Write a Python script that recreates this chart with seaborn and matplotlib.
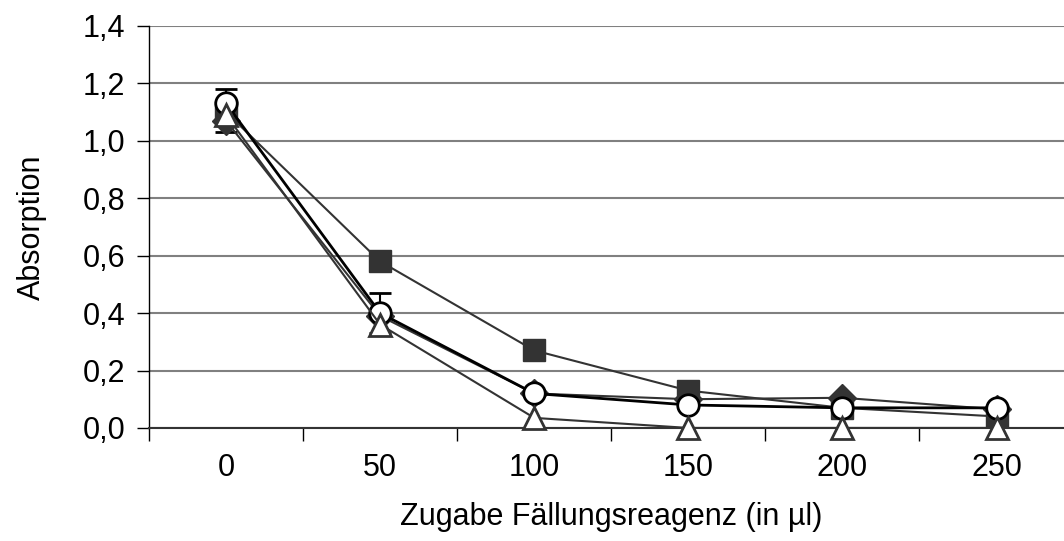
import matplotlib
matplotlib.use("Agg")
import matplotlib.pyplot as plt
import seaborn as sns
import pandas as pd
import numpy as np

# Zugabe Fällungsreagenz (µl)
doses = [0, 50, 100, 150, 200, 250]

# Absorption per series
raute = [1.07, 0.39, 0.12, 0.10, 0.105, 0.065]
quadrat = [1.10, 0.58, 0.27, 0.13, 0.07, 0.04]
kreis = [1.13, 0.40, 0.12, 0.08, 0.07, 0.07]
dreieck = [1.09, 0.36, 0.035, 0.0, 0.0, 0.0]

# Standard deviations (only shown where visible)
kreis_err = [0.05, 0.07, 0, 0, 0, 0]
raute_err = [0.04, 0, 0, 0, 0, 0]

y_ticks = [0.0, 0.2, 0.4, 0.6, 0.8, 1.0, 1.2, 1.4]

sns.set_theme(style="white")
plt.rcParams["font.family"] = ["Liberation Sans", "DejaVu Sans"]
plt.rcParams["text.color"] = "black"
plt.rcParams["axes.labelcolor"] = "black"
plt.rcParams["xtick.color"] = "black"
plt.rcParams["ytick.color"] = "black"

FS = 22

fig = plt.figure(figsize=(10.64, 5.41), dpi=100)
ax = fig.add_axes([0.140, 0.209, 0.869, 0.743])

pos = np.arange(len(doses))
dark = "#333333"

series = [
    ("raute", raute, dict(marker="D", color=dark, mfc=dark, mec=dark, ms=14, lw=1.5)),
    ("quadrat", quadrat, dict(marker="s", color=dark, mfc=dark, mec=dark, ms=16, lw=1.5)),
    ("kreis", kreis, dict(marker="o", color="black", mfc="white", mec="black", ms=15.5, lw=2.0, mew=2.0)),
    ("dreieck", dreieck, dict(marker="^", color=dark, mfc="white", mec=dark, ms=16.5, lw=1.5, mew=2.0)),
]

# error bars beneath markers
for vals, errs in [(raute, raute_err), (kreis, kreis_err)]:
    for x, v, e in zip(pos, vals, errs):
        if e > 0:
            ax.errorbar([x], [v], yerr=[e], fmt="none", ecolor="black",
                        elinewidth=1.5, capsize=8, capthick=2, zorder=2)

for i, (name, vals, style) in enumerate(series):
    df = pd.DataFrame({"pos": pos, "val": vals})
    sns.lineplot(data=df, x="pos", y="val", ax=ax, color=style["color"],
                 linewidth=style["lw"], marker=style["marker"],
                 markersize=style["ms"], markerfacecolor=style["mfc"],
                 markeredgecolor=style["mec"],
                 markeredgewidth=style.get("mew", 1.0),
                 zorder=3 + i, clip_on=False)

ax.set_xlim(-0.5, len(doses) - 0.5)
ax.set_ylim(0, 1.4)
ax.set_yticks(y_ticks)
ax.set_yticklabels([f"{t:.1f}".replace(".", ",") for t in y_ticks])
ax.yaxis.grid(True, color="#808080", linewidth=1.5)
ax.xaxis.grid(False)

# category labels centred, tick marks at boundaries
ax.set_xticks(pos)
ax.set_xticklabels([str(d) for d in doses])
ax.tick_params(axis="x", length=0, pad=18, labelsize=FS, labelcolor="black")
ax.set_xticks(np.arange(len(doses) + 1) - 0.5, minor=True)
ax.tick_params(axis="x", which="minor", direction="out", length=9, width=1, color="black", bottom=True)
ax.tick_params(axis="y", direction="out", length=9, width=1, color="black", left=True,
               labelsize=FS, pad=8, labelcolor="black")

for s in ["top", "right"]:
    ax.spines[s].set_visible(False)
ax.spines["left"].set_color("black")
ax.spines["left"].set_linewidth(1.0)
ax.spines["bottom"].set_color("#333333")
ax.spines["bottom"].set_linewidth(1.5)

ax.set_xlabel("Zugabe Fällungsreagenz (in µl)", fontsize=FS, labelpad=14, color="black")
ax.set_ylabel("Absorption", fontsize=FS, labelpad=26, color="black")
ax.set_facecolor("white")
fig.patch.set_facecolor("white")

fig.savefig("out.png", dpi=100)
